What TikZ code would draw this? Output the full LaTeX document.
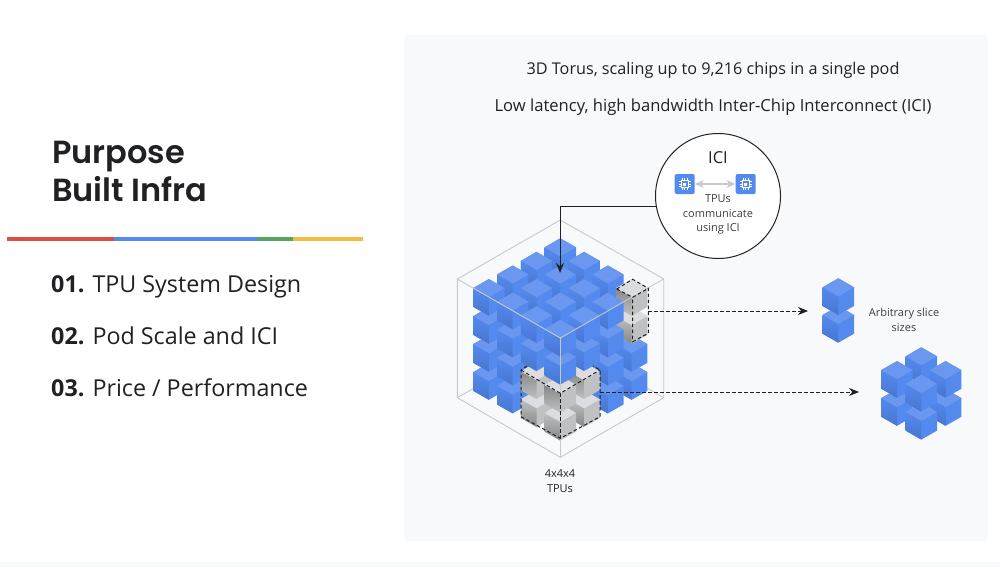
\documentclass[tikz,border=0pt]{standalone}
\usepackage{fontspec}
\setmainfont{Open Sans}
\newfontfamily\headfont{Poppins}[UprightFont=* SemiBold,BoldFont=* SemiBold]
\usetikzlibrary{positioning,arrows.meta,calc}
\definecolor{colorpanel}  {RGB}{248,249,251}
\definecolor{colorink}    {RGB}{ 32, 33, 36}
\definecolor{colorsoft}   {RGB}{ 60, 64, 67}
\definecolor{colorwire}   {RGB}{200,201,204}
\definecolor{colorblue}   {RGB}{ 84,138,238}
\definecolor{colorbluetop}{RGB}{106,152,240}
\definecolor{colorbluelow}{RGB}{ 72,118,208}
\definecolor{colorgraytop}{RGB}{220,221,224}
\definecolor{colorgrayfar}{RGB}{192,193,195}
\definecolor{colorgraylow}{RGB}{135,135,135}
\definecolor{colorred}    {RGB}{219, 78, 66}
\definecolor{colorgreen}  {RGB}{ 90,163, 95}
\definecolor{coloryellow} {RGB}{243,188, 65}

% one cube, (#1,#2) is its top corner, #3 the kind
\newcommand{\blockcube}[3]{
    \begin{scope}[shift={({#1},{#2})}]
        \fill[#3right]  (0,0) -- (15.7,9) -- (15.7,27.7) -- (0,36.7) -- (-15.7,27.7) -- (-15.7,9) -- cycle;
        \shade[#3left]  (-15.7,9) -- (0,18) -- (0,36.7) -- (-15.7,27.7) -- cycle;
        \fill[#3top]    (0,0) -- (15.7,9) -- (0,18) -- (-15.7,9) -- cycle;
    \end{scope}
}

\begin{document}
\begin{tikzpicture}[
    x=1pt, y=-1pt,
    bluetop/.style={fill=colorbluetop},
    blueleft/.style={top color=colorblue,bottom color=colorbluelow},
    blueright/.style={fill=colorblue},
    graytop/.style={fill=colorgraytop},
    grayleft/.style={top color=colorgrayfar,bottom color=colorgraylow},
    grayright/.style={fill=colorgrayfar},
    darktop/.style={fill=colorgraytop},
    darkleft/.style={top color=colorgraylow,bottom color=colorgrayfar},
    darkright/.style={fill=colorgrayfar},
    wire/.style={colorwire,line width=0.9pt},
    hull/.style={colorink,line width=1pt,dash pattern=on 3.5pt off 2.5pt},
    slicearrow/.style={hull,-{Stealth[length=10pt,width=8pt]}},
    pointer/.style={colorink,line width=1pt,-{Stealth[length=10pt,width=8pt]}},
    chipbox/.style={fill=colorblue,rounded corners=2pt,minimum size=20pt,inner sep=0pt},
    headline/.style={font={\fontsize{16.6}{20}\selectfont},text=colorink,inner sep=0pt,anchor=base},
    small/.style={font={\fontsize{11}{14.5}\selectfont},text=colorsoft,align=center,inner sep=0pt},
    listitem/.style={font={\fontsize{23.3}{28}\selectfont},text=colorink,anchor=base west,inner sep=0pt},
]

    \useasboundingbox (0,0) rectangle (1000,567);
    \fill[white] (0,0) rectangle (1000,567);
    \fill[colorpanel] (0,562) rectangle (1000,567);
    \fill[colorpanel,rounded corners=6pt] (404,35) rectangle (988,541);

    % left column
    \node[anchor=west,align=left,inner sep=0pt,text=colorink,font={\headfont\fontsize{32}{37.5}\selectfont}] (title) at (52,171.5) {Purpose\\Built Infra};

    \fill[colorred]    (7,237) rectangle (114,241.3);
    \fill[colorblue]   (114,237) rectangle (257,241.3);
    \fill[colorgreen]  (257,237) rectangle (292.5,241.3);
    \fill[coloryellow] (292.5,237) rectangle (363,241.3);

    \node[listitem] (first)  at (51,292.5) {\textbf{01.} TPU System Design};
    \node[listitem] (second) at (51,344)   {\textbf{02.} Pod Scale and ICI};
    \node[listitem] (third)  at (51,396)   {\textbf{03.} Price / Performance};

    % right panel
    \node[headline,font={\fontsize{16.2}{20}\selectfont}] (scaling) at (713,75)  {3D Torus, scaling up to 9,216 chips in a single pod};
    \node[headline] (latency) at (713,112) {Low latency, high bandwidth Inter-Chip Interconnect (ICI)};

    % back of the wire cube
    \draw[wire] (457.3,397.7) -- (560.3,338) -- (663.7,397.7);
    \draw[wire] (560.3,220) -- (560.3,338);
    \draw[wire] (560.3,220) -- (663.7,279) -- (663.7,397.7) -- (560.3,457.3) -- (457.3,397.7) -- (457.3,279) -- cycle;

    % the 4x4x4 block
    \foreach \k in {3,2,1,0}{
        \foreach \i in {0,1,2,3}{
            \foreach \j in {0,1,2,3}{
                \pgfmathtruncatemacro{\isgray}{(\i>1 && \j>1 && \k>1) || (\i==3 && \j==0 && \k<2)}
                \ifnum\isgray=1
                    \ifodd\k
                        \def\kind{gray}
                    \else
                        \def\kind{dark}
                    \fi
                \else
                    \def\kind{blue}
                \fi
                \blockcube{560.3+23.8*(\i-\j)}{238.3+13.6*(\i+\j)+28*\k}{\kind}
            }
        }
    }

    % front of the wire cube
    \draw[wire] (457.3,279) -- (560.3,338) -- (663.7,279);
    \draw[wire] (560.3,338) -- (560.3,457.3);

    % dashed outlines of the two slices
    \draw[hull] (616.7,289) -- (632.7,279.3) -- (648.3,288.3) -- (648.3,333.3) -- (632.7,341.7) -- (632.7,297.3);
    \draw[hull] (616.7,289) -- (632.7,297.3) -- (648.3,288.3);
    \draw[hull] (527,366) -- (521,370) -- (521,416.7) -- (560.3,438.3) -- (600,416.7) -- (600,370) -- (593,366);
    \draw[hull] (521,370) -- (560.3,393.3) -- (600,370);
    \draw[hull] (560.3,393.3) -- (560.3,438.3);

    % the two cut out slices
    \blockcube{838.3}{306}{blue}
    \blockcube{838.3}{278.3}{blue}

    \foreach \k in {1,0}{
        \foreach \i in {0,1}{
            \foreach \j in {0,1}{
                \blockcube{921.3+24.3*(\i-\j)}{347.3+13.8*(\i+\j)+28*\k}{blue}
            }
        }
    }

    \coordinate (pairstart)    at (648.3,311);
    \coordinate (pairend)      at (808,311);
    \coordinate (clusterstart) at (600,392);
    \coordinate (clusterend)   at (859,392);
    \draw[slicearrow] (pairstart) -- (pairend);
    \draw[slicearrow] (clusterstart) -- (clusterend);

    % ICI callout
    \node[circle,draw=colorink,line width=1pt,fill=white,minimum size=125pt,inner sep=0pt] (ici) at (718,196) {};
    \coordinate (blocktop) at (560,273);
    \draw[pointer] (ici.190) -| (blocktop);

    \node[text=colorink,inner sep=0pt,font={\fontsize{16.5}{18}\selectfont}] (icititle) at (718,158) {ICI};
    \node[chipbox] (tpuleft)  at (684.7,184) {};
    \node[chipbox] (tpuright) at (745.7,184) {};
    \foreach \chip in {tpuleft,tpuright}{
        \draw[white,line width=1pt] ([shift={(-3.5,-3.5)}]\chip.center) rectangle ([shift={(3.5,3.5)}]\chip.center);
        \foreach \pin in {-2.5,0,2.5}{
            \draw[white,line width=0.5pt] ([shift={(\pin,-6)}]\chip.center) -- ([shift={(\pin,6)}]\chip.center);
            \draw[white,line width=0.5pt] ([shift={(-6,\pin)}]\chip.center) -- ([shift={(6,\pin)}]\chip.center);
        }
        \fill[colorblue] ([shift={(-3,-3)}]\chip.center) rectangle ([shift={(3,3)}]\chip.center);
        \fill[white] ([shift={(-1.5,-1.5)}]\chip.center) rectangle ([shift={(1.5,1.5)}]\chip.center);
    }
    \draw[{Stealth[length=9pt,width=8pt]}-{Stealth[length=9pt,width=8pt]},color=colorwire,line width=1.5pt] (tpuleft) -- (tpuright);
    \node[small] (icitext) at (718,214.5) {TPUs\\communicate\\using ICI};

    \node[small] (slicetext) at (904,320) {Arbitrary slice\\sizes};
    \node[small,text=colorink] (blocktext) at (560,481) {4x4x4\\TPUs};

\end{tikzpicture}
\end{document}
